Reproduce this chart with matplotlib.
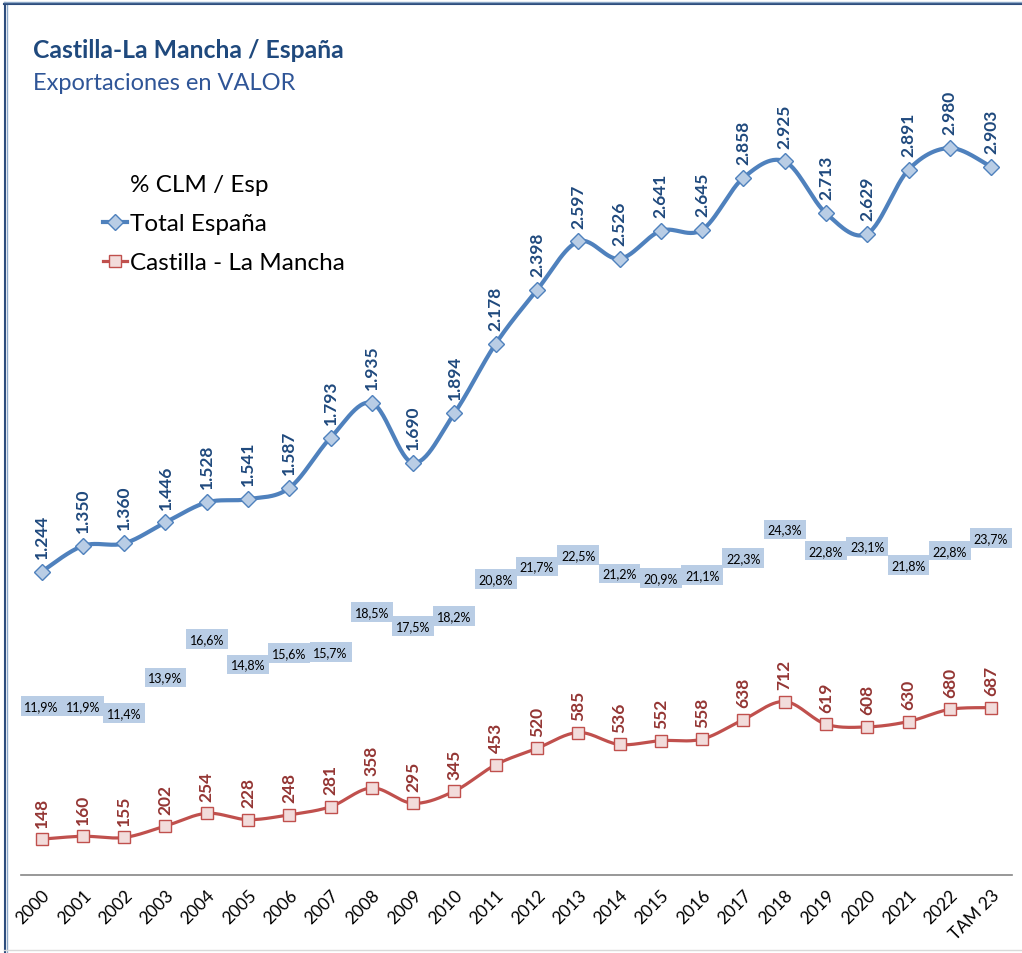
import numpy as np
import matplotlib.pyplot as plt
from matplotlib.lines import Line2D

plt.rcParams['font.family'] = ['Lato', 'DejaVu Sans']

years = ['2000', '2001', '2002', '2003', '2004', '2005', '2006', '2007', '2008',
         '2009', '2010', '2011', '2012', '2013', '2014', '2015', '2016', '2017',
         '2018', '2019', '2020', '2021', '2022', 'TAM 23']
espana = [1244, 1350, 1360, 1446, 1528, 1541, 1587, 1793, 1935, 1690, 1894, 2178,
          2398, 2597, 2526, 2641, 2645, 2858, 2925, 2713, 2629, 2891, 2980, 2903]
clm = [148, 160, 155, 202, 254, 228, 248, 281, 358, 295, 345, 453,
       520, 585, 536, 552, 558, 638, 712, 619, 608, 630, 680, 687]
pct = [11.9, 11.9, 11.4, 13.9, 16.6, 14.8, 15.6, 15.7, 18.5, 17.5, 18.2, 20.8,
       21.7, 22.5, 21.2, 20.9, 21.1, 22.3, 24.3, 22.8, 23.1, 21.8, 22.8, 23.7]

BLUE = '#4F81BD'
BLUE_FILL = '#B9CDE5'
BLUE_TXT = '#1F497D'
RED = '#C0504D'
RED_FILL = '#F2DCDB'
RED_TXT = '#943634'


def smooth(x, y, n=30):
    # cubic bezier through every point, control points like a catmull-rom spline
    p = np.column_stack([x, y]).astype(float)
    p = np.vstack([p[0], p, p[-1]])
    out = []
    t = np.linspace(0, 1, n)[:, None]
    for i in range(1, len(p) - 2):
        a, b = p[i], p[i + 1]
        c1 = a + (p[i + 1] - p[i - 1]) / 6
        c2 = b - (p[i + 2] - p[i]) / 6
        seg = (1 - t) ** 3 * a + 3 * (1 - t) ** 2 * t * c1 + 3 * (1 - t) * t ** 2 * c2 + t ** 3 * b
        out.append(seg if i == 1 else seg[1:])
    s = np.vstack(out)
    return s[:, 0], s[:, 1]


def miles(v):
    return f'{v:,}'.replace(',', '.')


fig = plt.figure(figsize=(10.22, 9.54), dpi=100)
ax = fig.add_axes([21 / 1022, 1 - 876.3 / 954, (1011.7 - 21) / 1022, 854.2 / 954])
ax2 = ax.twinx()

x = np.arange(len(years))

sx, sy = smooth(x, espana)
ax.plot(sx, sy, color=BLUE, lw=3, solid_capstyle='round', zorder=3)
ax.plot(x, espana, ls='none', marker='D', ms=8, mfc=BLUE_FILL, mec=BLUE, mew=1, zorder=4)
for xi, v in zip(x, espana):
    ax.annotate(miles(v), (xi, v), xytext=(0, 10), textcoords='offset points',
                rotation=90, ha='center', va='bottom', fontsize=12.5,
                fontweight='bold', color=BLUE_TXT)

sx, sy = smooth(x, clm)
ax.plot(sx, sy, color=RED, lw=2.3, zorder=3)
ax.plot(x, clm, ls='none', marker='s', ms=8.5, mfc=RED_FILL, mec=RED, mew=1, zorder=4)
for xi, v in zip(x, clm):
    ax.annotate(miles(v), (xi, v), xytext=(0, 9), textcoords='offset points',
                rotation=90, ha='center', va='bottom', fontsize=12.5,
                fontweight='bold', color=RED_TXT)

# ratio series: no line, only the boxed labels
ax2.plot(x, pct, ls='none')
for xi, v in zip(x, pct):
    ax2.text(xi, v, f'{v:.1f}%'.replace('.', ','), ha='center', va='center',
             fontsize=9, color='black',
             bbox=dict(boxstyle='square,pad=0.3', fc=BLUE_FILL, ec='none'))

ax.set_xlim(-0.5, len(years) - 0.5)
ax.set_ylim(0, 3500)
ax2.set_ylim(0, 60)
for a in (ax, ax2):
    for side in ('top', 'right', 'left'):
        a.spines[side].set_visible(False)
    a.set_yticks([])
ax2.spines['bottom'].set_visible(False)
ax.spines['bottom'].set_color('#868686')
ax.spines['bottom'].set_linewidth(1.2)
ax.set_xticks(x)
ax.set_xticklabels(years, rotation=45, ha='right', va='top', rotation_mode='anchor',
                   fontsize=12.5)
ax.tick_params(axis='x', length=0, pad=8)

handles = [
    Line2D([], [], ls='none'),
    Line2D([], [], color=BLUE, lw=3, marker='D', ms=8, mfc=BLUE_FILL, mec=BLUE),
    Line2D([], [], color=RED, lw=2.3, marker='s', ms=8.5, mfc=RED_FILL, mec=RED),
]
fig.legend(handles, ['% CLM / Esp', 'Total España', 'Castilla - La Mancha'],
           loc='upper left', bbox_to_anchor=(91 / 1022, 1 - 163 / 954),
           frameon=False, fontsize=17.5, handlelength=1.0, handletextpad=0.1,
           labelspacing=0.74, borderpad=0)

fig.text(33 / 1022, 1 - 50 / 954, 'Castilla-La Mancha / España', fontsize=17.8,
         fontweight='bold', color=BLUE_TXT, va='center')
fig.text(33 / 1022, 1 - 84 / 954, 'Exportaciones en VALOR', fontsize=17,
         color='#2F5597', va='center')

# frame around the chart
fig.add_artist(Line2D([4.5 / 1022, 4.5 / 1022], [0, 1 - 4 / 954], color='#2E4E7E', lw=1.5))
fig.add_artist(Line2D([7 / 1022, 7 / 1022], [0, 1 - 6 / 954], color='#8EA9C8', lw=1))
fig.add_artist(Line2D([4 / 1022, 1], [1 - 5 / 954, 1 - 5 / 954], color='#2E4E7E', lw=1.5))
fig.add_artist(Line2D([4 / 1022, 1], [1 - 3 / 954, 1 - 3 / 954], color='#8EA9C8', lw=1))
fig.add_artist(Line2D([4 / 1022, 1], [3 / 954, 3 / 954], color='#D9D9D9', lw=1))

fig.savefig('out.png', dpi=100)
